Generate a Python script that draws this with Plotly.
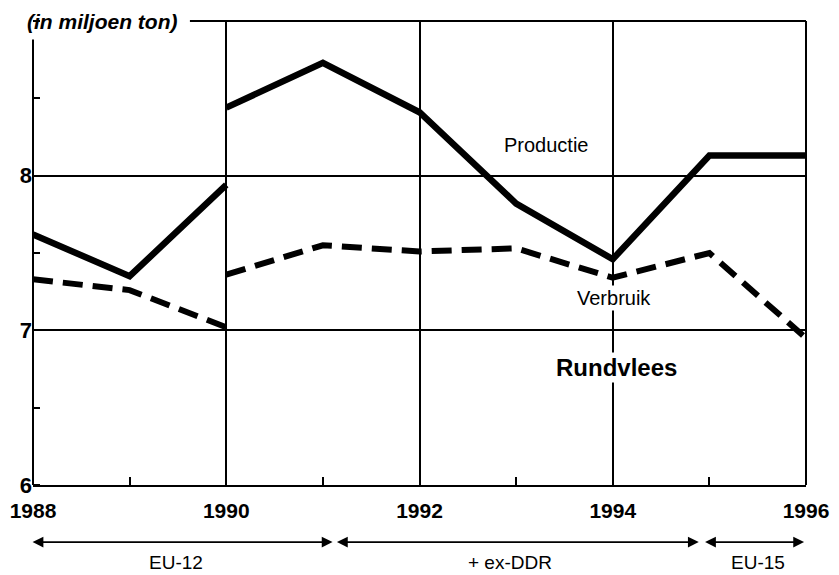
"""
Rundvlees: productie en verbruik (in miljoen ton), 1988-1996.
"""
import plotly.graph_objects as go

# data (break at 1990: + ex-DDR)
years_a = [1988, 1989, 1990]
years_b = [1990, 1991, 1992, 1993, 1994, 1995, 1996]

productie_a = [7.62, 7.35, 7.94]
productie_b = [8.44, 8.73, 8.41, 7.82, 7.46, 8.13, 8.13]

verbruik_a = [7.33, 7.26, 7.02]
verbruik_b = [7.36, 7.55, 7.51, 7.53, 7.34, 7.50, 6.95]

x_ticks = [1988, 1990, 1992, 1994, 1996]
y_ticks = [6, 7, 8]

# periods shown under the axis
period_labels = ["EU-12", "+ ex-DDR", "EU-15"]
period_start = [1987.98, 1991.13, 1994.94]
period_end = [1991.10, 1994.89, 1995.98]
period_label_x = [1989.48, 1992.94, 1995.50]

FONT = "Liberation Sans, Arial, Helvetica, sans-serif"

fig = go.Figure()

solid = dict(color="black", width=6.5)
dashed = dict(color="black", width=6, dash="20px,10px")

fig.add_trace(go.Scatter(x=years_a, y=productie_a, mode="lines", line=solid,
                         name="Productie", showlegend=False))
fig.add_trace(go.Scatter(x=years_b, y=productie_b, mode="lines", line=solid,
                         name="Productie", showlegend=False))
fig.add_trace(go.Scatter(x=years_a, y=verbruik_a, mode="lines", line=dashed,
                         name="Verbruik", showlegend=False))
fig.add_trace(go.Scatter(x=years_b, y=verbruik_b, mode="lines", line=dashed,
                         name="Verbruik", showlegend=False))

# frame lines (left axis stops below the unit label, top line starts after it)
line = dict(color="black", width=2)
fig.add_shape(type="line", xref="paper", yref="y", x0=0, x1=0, y0=6, y1=8.88, line=line)
fig.add_shape(type="line", xref="paper", yref="paper", x0=0.203, x1=1, y0=1, y1=1, line=line)
fig.add_shape(type="line", xref="paper", yref="paper", x0=1, x1=1, y0=0, y1=1, line=line)

# text labels
fig.add_annotation(x=0.089, y=1.0, xref="paper", yref="paper", text="<i>(in miljoen ton)</i>",
                   showarrow=False, xanchor="center", yanchor="middle",
                   font=dict(family=FONT, size=21, weight="bold", color="black"))
fig.add_annotation(x=1993.31, y=8.20, text="Productie", showarrow=False,
                   font=dict(family=FONT, size=20, color="black"))
fig.add_annotation(x=1994.01, y=7.21, text="Verbruik", showarrow=False, bgcolor="white",
                   font=dict(family=FONT, size=20, color="black"))
fig.add_annotation(x=1994.04, y=6.76, text="<b>Rundvlees</b>", showarrow=False, bgcolor="white",
                   font=dict(family=FONT, size=24, color="black"))

# period arrows and labels below the x axis
for start, end, label, lx in zip(period_start, period_end, period_labels, period_label_x):
    fig.add_annotation(x=end, y=-0.123, ax=start, ay=0,
                       xref="x", yref="paper", axref="x", ayref="pixel",
                       text="", showarrow=True, arrowside="end+start",
                       arrowhead=2, arrowsize=1.2, arrowwidth=1.8, arrowcolor="black")
    fig.add_annotation(x=lx, y=-0.166, xref="x", yref="paper",
                       text=label, showarrow=False, yanchor="middle",
                       font=dict(family=FONT, size=19, color="black"))

fig.update_xaxes(
    range=[1988, 1996], tickvals=x_ticks, ticks="", automargin=False,
    showgrid=True, gridcolor="black", gridwidth=1.5,
    showline=True, linecolor="black", linewidth=2, zeroline=False,
    minor=dict(dtick=1, tick0=1988, ticks="inside", ticklen=8, tickcolor="black",
               tickwidth=1.5, showgrid=False),
    tickfont=dict(family=FONT, size=21, weight="bold", color="black"),
    ticklabelstandoff=6,
)
fig.update_yaxes(
    range=[6, 9], tickvals=y_ticks, ticks="", automargin=False,
    showgrid=True, gridcolor="black", gridwidth=1.5,
    showline=False, zeroline=False,
    minor=dict(dtick=0.5, tick0=6, ticks="inside", ticklen=7, tickcolor="black",
               tickwidth=1.5, showgrid=False),
    tickfont=dict(family=FONT, size=22, weight="bold", color="black"),
)

# page body has an 8px margin, so the figure is sized to fit the window
fig.update_layout(
    width=831, height=567,
    margin=dict(l=25, r=33, t=13, b=90),
    plot_bgcolor="white", paper_bgcolor="white",
    showlegend=False,
)

fig.write_html("out.html")
